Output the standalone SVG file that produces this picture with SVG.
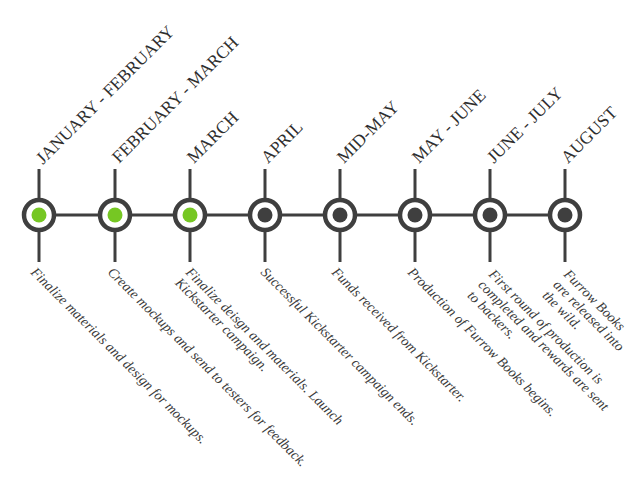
<svg xmlns="http://www.w3.org/2000/svg" width="640" height="480" viewBox="0 0 640 480">
<style>
.ln{stroke:#3f3f3f;stroke-width:3;fill:none}
.ring{fill:#fff;stroke:#3f3f3f;stroke-width:4.5}
.done{fill:#76c723}
.todo{fill:#3f3f3f}
.lbl{font-size:17.5px;fill:#2e2e2e}
.desc{font-style:italic;font-size:14px;fill:#3a3a3a}
</style>
<rect width="640" height="480" fill="#fff"/>
<g id="connectors">
<line class="ln" x1="39" y1="215" x2="565" y2="215"/>
<line class="ln" x1="39" y1="169" x2="39" y2="262"/>
<line class="ln" x1="115" y1="169" x2="115" y2="262"/>
<line class="ln" x1="190" y1="169" x2="190" y2="262"/>
<line class="ln" x1="265" y1="169" x2="265" y2="262"/>
<line class="ln" x1="340" y1="169" x2="340" y2="262"/>
<line class="ln" x1="415" y1="169" x2="415" y2="262"/>
<line class="ln" x1="490" y1="169" x2="490" y2="262"/>
<line class="ln" x1="565" y1="169" x2="565" y2="262"/>
</g>
<g font-family="'Liberation Serif', 'Times New Roman', 'DejaVu Serif', serif">
<g id="n1">
<circle class="ring" cx="39" cy="215" r="15"/><circle class="done" cx="39" cy="215" r="7.5"/>
<text class="lbl" transform="translate(43,165) rotate(-45)">JANUARY - FEBRUARY</text>
<text class="desc" transform="translate(30,273) rotate(45)">Finalize materials and design for mockups.</text>
</g>
<g id="n2">
<circle class="ring" cx="115" cy="215" r="15"/><circle class="done" cx="115" cy="215" r="7.5"/>
<text class="lbl" transform="translate(119,164) rotate(-45)">FEBRUARY - MARCH</text>
<text class="desc" transform="translate(107,273) rotate(45)">Create mockups and send to testers for feedback.</text>
</g>
<g id="n3">
<circle class="ring" cx="190" cy="215" r="15"/><circle class="done" cx="190" cy="215" r="7.5"/>
<text class="lbl" transform="translate(194,164) rotate(-45)">MARCH</text>
<text class="desc" transform="translate(185,273) rotate(45)"><tspan x="0" y="0">Finalize deisgn and materials. Launch</tspan><tspan x="0" y="15">Kickstarter campaign.</tspan></text>
</g>
<g id="n4">
<circle class="ring" cx="265" cy="215" r="15"/><circle class="todo" cx="265" cy="215" r="7.5"/>
<text class="lbl" transform="translate(268,164) rotate(-45)">APRIL</text>
<text class="desc" transform="translate(260,273) rotate(45)">Successful Kickstarter campaign ends.</text>
</g>
<g id="n5">
<circle class="ring" cx="340" cy="215" r="15"/><circle class="todo" cx="340" cy="215" r="7.5"/>
<text class="lbl" transform="translate(344,164) rotate(-45)">MID-MAY</text>
<text class="desc" transform="translate(331,273) rotate(45)">Funds received from Kickstarter.</text>
</g>
<g id="n6">
<circle class="ring" cx="415" cy="215" r="15"/><circle class="todo" cx="415" cy="215" r="7.5"/>
<text class="lbl" transform="translate(419,164) rotate(-45)">MAY - JUNE</text>
<text class="desc" transform="translate(407,273) rotate(45)">Production of Furrow Books begins.</text>
</g>
<g id="n7">
<circle class="ring" cx="490" cy="215" r="15"/><circle class="todo" cx="490" cy="215" r="7.5"/>
<text class="lbl" transform="translate(494,164) rotate(-45)">JUNE - JULY</text>
<text class="desc" transform="translate(488,275) rotate(45)"><tspan x="0" y="0">First round of production is</tspan><tspan x="0" y="15">completed and rewards are sent</tspan><tspan x="0" y="30">to backers.</tspan></text>
</g>
<g id="n8">
<circle class="ring" cx="565" cy="215" r="15"/><circle class="todo" cx="565" cy="215" r="7.5"/>
<text class="lbl" transform="translate(568,164) rotate(-45)">AUGUST</text>
<text class="desc" transform="translate(563,275) rotate(45)"><tspan x="0" y="0">Furrow Books</tspan><tspan x="0" y="15">are released into</tspan><tspan x="0" y="30">the wild.</tspan></text>
</g>
</g>
</svg>
